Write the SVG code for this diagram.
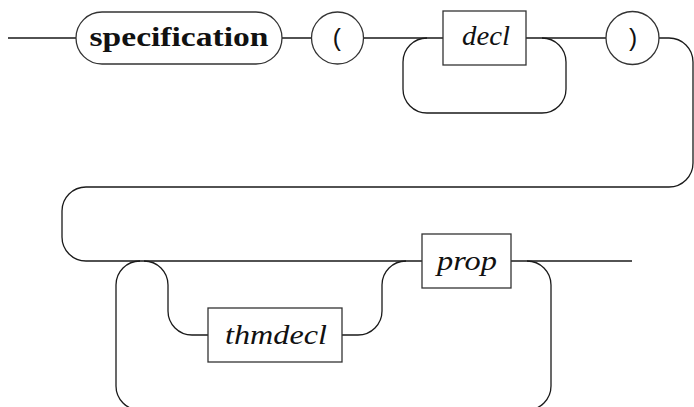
<svg xmlns="http://www.w3.org/2000/svg" width="694" height="407" viewBox="0 0 694 407">
<style>
.c{fill:none;stroke:#1a1a1a;stroke-width:1.3}
.n{fill:#fff;stroke:#333;stroke-width:1.3}
text{fill:#111}
</style>
<rect width="694" height="407" fill="#fff"/>
<g id="connectors" class="c">
<path d="M8,38 H76 M282,38 H311 M364,38 H443 M526,38 H606"/>
<path d="M427,38 A24,24 0 0 0 403,62 V89 A24,24 0 0 0 427,113 H542 A24,24 0 0 0 566,89 V62 A24,24 0 0 0 542,38"/>
<path d="M659,38 H669 A24,24 0 0 1 693,62 V163 A24,24 0 0 1 669,187 H86 A24,24 0 0 0 62,211 V237 A24,24 0 0 0 86,261 H422"/>
<path d="M511,261 H632"/>
<path d="M144,261 A24,24 0 0 1 168,285 V311 A24,24 0 0 0 192,335 H208 M342,335 H358 A24,24 0 0 0 382,311 V285 A24,24 0 0 1 406,261"/>
<path d="M527,261 A24,24 0 0 1 551,285 V386 A24,24 0 0 1 527,410 H140 A24,24 0 0 1 116,386 V285 A24,24 0 0 1 140,261"/>
</g>
<g id="specification">
<rect class="n" x="76" y="12" width="206" height="52" rx="26"/>
<text x="179" y="46" font-family="Liberation Serif, serif" font-weight="bold" font-size="27" text-anchor="middle" textLength="179" lengthAdjust="spacingAndGlyphs">specification</text>
</g>
<g id="lparen">
<circle class="n" cx="337.5" cy="38" r="26"/>
<text x="337.5" y="46" font-family="Liberation Mono, monospace" font-size="24" text-anchor="middle">(</text>
</g>
<g id="decl">
<rect class="n" x="443" y="11" width="83" height="54"/>
<text x="486" y="45" font-family="Liberation Serif, serif" font-style="italic" font-size="27" text-anchor="middle" textLength="48" lengthAdjust="spacingAndGlyphs">decl</text>
</g>
<g id="rparen">
<circle class="n" cx="632.5" cy="38" r="26.5"/>
<text x="632.5" y="46" font-family="Liberation Mono, monospace" font-size="24" text-anchor="middle">)</text>
</g>
<g id="thmdecl">
<rect class="n" x="208" y="308" width="134" height="54"/>
<text x="276" y="344" font-family="Liberation Serif, serif" font-style="italic" font-size="27" text-anchor="middle" textLength="102" lengthAdjust="spacingAndGlyphs">thmdecl</text>
</g>
<g id="prop">
<rect class="n" x="422" y="234" width="89" height="54"/>
<text x="467" y="270" font-family="Liberation Serif, serif" font-style="italic" font-size="27" text-anchor="middle" textLength="60" lengthAdjust="spacingAndGlyphs">prop</text>
</g>
</svg>
